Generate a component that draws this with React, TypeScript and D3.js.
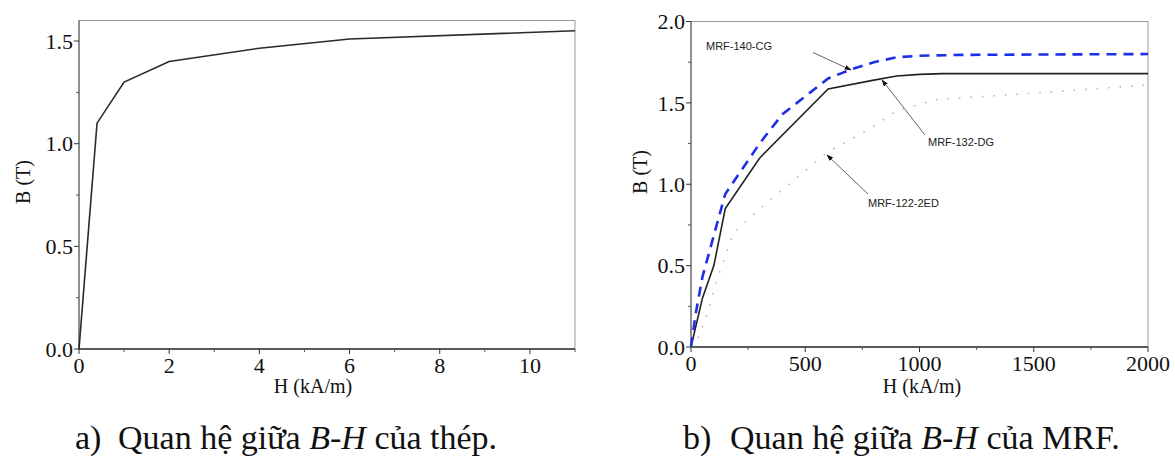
import React from "react";
import * as d3 from "d3";

// Left chart: steel B-H
const steelH = [0, 0.4, 1, 2, 4, 6, 11];
const steelB = [0, 1.1, 1.3, 1.4, 1.465, 1.51, 1.55];
const steelXTicks = [0, 2, 4, 6, 8, 10];
const steelXMinor = [1, 3, 5, 7, 9, 11];
const steelYTicks = [0, 0.5, 1.0, 1.5];
const steelYMinor = [0.25, 0.75, 1.25];

// Right chart: MRF B-H
const mrf140H = [0, 20, 50, 130, 150, 300, 400, 600, 700, 800, 900, 1000, 1200, 2000];
const mrf140B = [0, 0.2, 0.43, 0.84, 0.94, 1.25, 1.43, 1.65, 1.705, 1.75, 1.78, 1.79, 1.795, 1.8];
const mrf132H = [0, 50, 100, 150, 300, 600, 800, 900, 1000, 1100, 2000];
const mrf132B = [0, 0.3, 0.5, 0.85, 1.16, 1.585, 1.64, 1.665, 1.675, 1.68, 1.68];
const mrf122H = [0, 30, 75, 110, 185, 330, 600, 770, 900, 1070, 1400, 2000];
const mrf122B = [0, 0.05, 0.22, 0.4, 0.7, 0.885, 1.2, 1.33, 1.45, 1.52, 1.55, 1.61];
const mrfXTicks = [0, 500, 1000, 1500, 2000];
const mrfXMinor = [250, 750, 1250, 1750];
const mrfYTicks = [0, 0.5, 1.0, 1.5, 2.0];
const mrfYMinor = [0.25, 0.75, 1.25, 1.75];

const SERIF = "\"Liberation Serif\", \"Times New Roman\", Tinos, \"DejaVu Serif\", serif";
const SANS = "\"Liberation Sans\", Arial, sans-serif";

type Pt = [number, number];
const zip = (a: number[], b: number[]): Pt[] => a.map((v, i) => [v, b[i]]);

const serifStyle = (size: number): React.CSSProperties => ({ fontFamily: SERIF, fontSize: size + "px" });

function Axes({ x, y, xTicks, xMinor, yTicks, yMinor, xFmt, yFmt }: any) {
  const [x0, x1] = x.range();
  const [y0, y1] = y.range();
  return (
    <g>
      <line x1={x0} x2={x1} y1={y1} y2={y1} stroke="#9a9a9a" strokeWidth={1} />
      <line x1={x1} x2={x1} y1={y1} y2={y0} stroke="#9a9a9a" strokeWidth={1} />
      <line x1={x0} x2={x0} y1={y1} y2={y0} stroke="#444" strokeWidth={1.2} />
      <line x1={x0} x2={x1} y1={y0} y2={y0} stroke="#222" strokeWidth={1.6} />
      {yTicks.map((t: number) => (
        <g key={"yt" + t}>
          <line x1={x0 - 5} x2={x0} y1={y(t)} y2={y(t)} stroke="#333" />
          <text x={x0 - 6} y={y(t)} dy="0.35em" textAnchor="end" style={serifStyle(22)} fill="#111">
            {yFmt(t)}
          </text>
        </g>
      ))}
      {yMinor.map((t: number) => (
        <line key={"ym" + t} x1={x0 - 3} x2={x0} y1={y(t)} y2={y(t)} stroke="#555" />
      ))}
      {xTicks.map((t: number) => (
        <g key={"xt" + t}>
          <line x1={x(t)} x2={x(t)} y1={y0} y2={y0 + 5} stroke="#333" />
          <text x={x(t)} y={y0 + 24} textAnchor="middle" style={serifStyle(22)} fill="#111">
            {xFmt(t)}
          </text>
        </g>
      ))}
      {xMinor.map((t: number) => (
        <line key={"xm" + t} x1={x(t)} x2={x(t)} y1={y0} y2={y0 + 3} stroke="#555" />
      ))}
    </g>
  );
}

export default function App() {
  const xL = d3.scaleLinear().domain([0, 11]).range([79, 575]);
  const yL = d3.scaleLinear().domain([0, 1.6]).range([349, 20.5]);
  const xR = d3.scaleLinear().domain([0, 2000]).range([691, 1148]);
  const yR = d3.scaleLinear().domain([0, 2]).range([347, 21.5]);

  const lineL = d3.line<Pt>().x((d) => xL(d[0])).y((d) => yL(d[1]));
  const lineR = d3.line<Pt>().x((d) => xR(d[0])).y((d) => yR(d[1]));

  const f1 = d3.format(".1f");
  const f0 = d3.format("d");

  const annStyle: React.CSSProperties = { fontFamily: SANS, fontSize: "11px" };

  return (
    <svg width={1175} height={461} style={{ position: "absolute", left: 0, top: 0, background: "#fff" }}>
      <defs>
        <marker id="arr" viewBox="0 0 10 10" refX={9} refY={5} markerWidth={7} markerHeight={7} orient="auto">
          <path d="M0,1.5 L10,5 L0,8.5 Z" fill="#111" />
        </marker>
      </defs>
      <rect width={1175} height={461} fill="#fff" />

      {/* Left chart */}
      <Axes x={xL} y={yL} xTicks={steelXTicks} xMinor={steelXMinor} yTicks={steelYTicks} yMinor={steelYMinor} xFmt={f0} yFmt={f1} />
      <path d={lineL(zip(steelH, steelB)) || ""} fill="none" stroke="#2a2a2a" strokeWidth={1.6} />
      <text x={313} y={393} textAnchor="middle" style={serifStyle(20)} fill="#111">H (kA/m)</text>
      <text transform="translate(30,182) rotate(-90)" textAnchor="middle" style={serifStyle(20)} fill="#111">B (T)</text>

      {/* Right chart */}
      <Axes x={xR} y={yR} xTicks={mrfXTicks} xMinor={mrfXMinor} yTicks={mrfYTicks} yMinor={mrfYMinor} xFmt={f0} yFmt={f1} />
      <path d={lineR(zip(mrf122H, mrf122B)) || ""} fill="none" stroke="#d9a0c8" strokeWidth={1.6} strokeDasharray="1.5,10" />
      <path d={lineR(zip(mrf132H, mrf132B)) || ""} fill="none" stroke="#222" strokeWidth={1.6} />
      <path d={lineR(zip(mrf140H, mrf140B)) || ""} fill="none" stroke="#1f2fe8" strokeWidth={2.6} strokeDasharray="10,7" />

      {/* annotations */}
      <line x1={813} y1={52.5} x2={851} y2={70} stroke="#666" strokeWidth={1} markerEnd="url(#arr)" />
      <text x={706} y={50} style={annStyle} fill="#222">MRF-140-CG</text>
      <line x1={925} y1={135} x2={882} y2={80} stroke="#666" strokeWidth={1} markerEnd="url(#arr)" />
      <text x={928} y={146} style={annStyle} fill="#222">MRF-132-DG</text>
      <line x1={868} y1={194} x2={827} y2={155} stroke="#666" strokeWidth={1} markerEnd="url(#arr)" />
      <text x={868} y={207} style={annStyle} fill="#222">MRF-122-2ED</text>

      <text x={922} y={393} textAnchor="middle" style={serifStyle(20)} fill="#111">H (kA/m)</text>
      <text transform="translate(647,172) rotate(-90)" textAnchor="middle" style={serifStyle(20)} fill="#111">B (T)</text>

      {/* captions */}
      <text x={75} y={449} style={serifStyle(34)} fill="#111">a)</text>
      <text x={118} y={449} style={serifStyle(34)} fill="#111">
        Quan hệ giữa <tspan fontStyle="italic">B</tspan>-<tspan fontStyle="italic">H</tspan> của thép.
      </text>
      <text x={683} y={449} style={serifStyle(34)} fill="#111">b)</text>
      <text x={730} y={449} style={serifStyle(34)} fill="#111">
        Quan hệ giữa <tspan fontStyle="italic">B</tspan>-<tspan fontStyle="italic">H</tspan> của MRF.
      </text>
    </svg>
  );
}
